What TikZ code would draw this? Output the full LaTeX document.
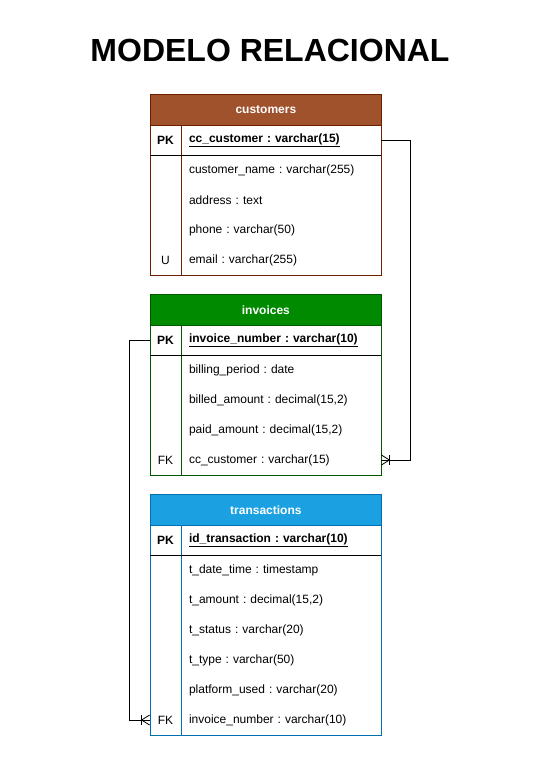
\documentclass[tikz,border=0pt]{standalone}
\usepackage{fontspec}
\setmainfont{Liberation Sans}
\usepackage{xcolor}
\usetikzlibrary{calc}
\definecolor{customersFill}{HTML}{A0522D}
\definecolor{customersLine}{HTML}{6D1F00}
\definecolor{invoicesFill}{HTML}{008A00}
\definecolor{invoicesLine}{HTML}{005700}
\definecolor{transFill}{HTML}{1BA1E2}
\definecolor{transLine}{HTML}{006EAF}
\frenchspacing

\begin{document}
\begin{tikzpicture}[x=1pt, y=-1pt, line width=0.8pt,
    headCell/.style={anchor=north west, minimum width=231pt, minimum height=31pt,
        inner sep=0pt, text=white, font=\fontsize{12}{14}\selectfont\bfseries},
    keyCell/.style={minimum width=31pt, minimum height=30pt, inner sep=0pt,
        font=\fontsize{12}{14}\selectfont},
    fieldCell/.style={text width=184pt, align=left, inner xsep=8pt, inner ysep=0pt,
        minimum height=30pt, font=\fontsize{12}{14}\selectfont},
    pkText/.style={font=\fontsize{12}{14}\selectfont\bfseries}]
    \fill[white] (0,0) rectangle (546,771);
    \useasboundingbox (0,0) rectangle (546,771);
    \node[font=\fontsize{32}{38}\selectfont\bfseries] (title) at (270,50) {MODELO RELACIONAL};

    % customers
    \node[headCell, fill=customersFill, draw=customersLine] (cust) at (150,94) {customers};
    \draw[customersLine] (150,125) rectangle (381,275);
    \draw[customersLine] (181,125) -- (181,275);
    \draw (150,155) -- (381,155);
    \node[keyCell, pkText] (custPK) at (165.5,140) {PK};
    \node[fieldCell, pkText] (custKey) at (281,140) {\underline{cc\_customer : varchar(15)}};
    \foreach \fld [count=\i] in {{customer\_name : varchar(255)}, {address : text},
        {phone : varchar(50)}, {email : varchar(255)}}
        \node[fieldCell] (cust\i) at (281,140+30*\i) {\fld};
    \node[keyCell] (custU) at (165.5,260) {U};

    % invoices
    \node[headCell, fill=invoicesFill, draw=invoicesLine] (inv) at (150,294) {invoices};
    \draw[invoicesLine] (150,325) rectangle (381,475);
    \draw[invoicesLine] (181,325) -- (181,475);
    \draw (150,355) -- (381,355);
    \node[keyCell, pkText] (invPK) at (165.5,340) {PK};
    \node[fieldCell, pkText] (invKey) at (281,340) {\underline{invoice\_number : varchar(10)}};
    \foreach \fld [count=\i] in {{billing\_period : date}, {billed\_amount : decimal(15,2)},
        {paid\_amount : decimal(15,2)}, {cc\_customer : varchar(15)}}
        \node[fieldCell] (inv\i) at (281,340+30*\i) {\fld};
    \node[keyCell] (invFK) at (165.5,460) {FK};

    % transactions
    \node[headCell, fill=transFill, draw=transLine] (trans) at (150,494) {transactions};
    \draw[transLine] (150,525) rectangle (381,735);
    \draw[transLine] (181,525) -- (181,735);
    \draw (150,555) -- (381,555);
    \node[keyCell, pkText] (transPK) at (165.5,540) {PK};
    \node[fieldCell, pkText] (transKey) at (281,540) {\underline{id\_transaction : varchar(10)}};
    \foreach \fld [count=\i] in {{t\_date\_time : timestamp}, {t\_amount : decimal(15,2)},
        {t\_status : varchar(20)}, {t\_type : varchar(50)}, {platform\_used : varchar(20)},
        {invoice\_number : varchar(10)}}
        \node[fieldCell] (trans\i) at (281,540+30*\i) {\fld};
    \node[keyCell] (transFK) at (165.5,720) {FK};

    % relations
    \draw (custKey.east) -- ++(29,0) |- (inv4.east);
    \draw ($(inv4.east)+(0,-5)$) -- ($(inv4.east)+(8,0)$) -- ($(inv4.east)+(0,5)$);
    \draw ($(inv4.east)+(8,-5)$) -- ($(inv4.east)+(8,5)$);
    \draw (invPK.west) -- ++(-20,0) |- (transFK.west);
    \draw ($(transFK.west)+(0,-5)$) -- ($(transFK.west)+(-8,0)$) -- ($(transFK.west)+(0,5)$);
    \draw ($(transFK.west)+(-8,-5)$) -- ($(transFK.west)+(-8,5)$);
\end{tikzpicture}
\end{document}
